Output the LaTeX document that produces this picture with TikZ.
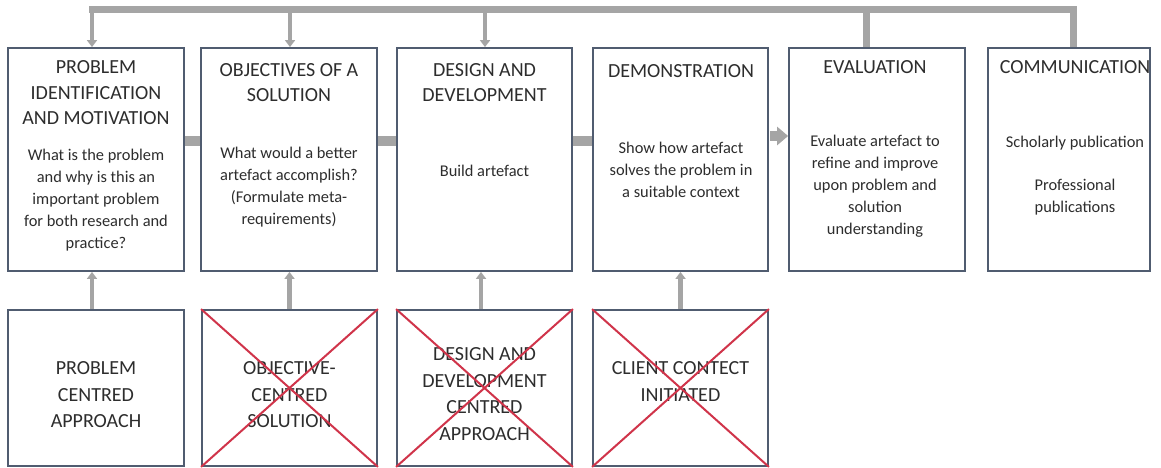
\documentclass[tikz,border=0pt]{standalone}
\usepackage{fontspec}
\setmainfont{Carlito}
\usetikzlibrary{arrows.meta,fit}
\definecolor{edge}{RGB}{80,92,112}
\definecolor{linkgray}{RGB}{165,165,165}
\definecolor{crossred}{RGB}{208,52,74}
\definecolor{ink}{RGB}{45,45,45}

\begin{document}
\begin{tikzpicture}[x=1pt,y=-1pt,
  stage/.style={draw=edge, line width=1.8pt, fill=white, inner sep=0pt},
  heading/.style={text=ink, align=center, inner sep=0pt, font=\fontsize{20}{25.5}\selectfont},
  detail/.style={text=ink, align=center, inner sep=0pt, font=\fontsize{16.4}{22}\selectfont},
  approach/.style={text=ink, align=center, inner sep=0pt, font=\fontsize{20}{26.5}\selectfont},
  bus/.style={draw=linkgray, line width=7pt, line join=miter},
  feed/.style={draw=linkgray, line width=4.5pt, -{Triangle[length=7pt,width=10pt]}},
  joint/.style={draw=linkgray, line width=10pt},
  flow/.style={draw=linkgray, line width=10pt, -{Triangle[length=11pt,width=18pt]}},
  strikeout/.style={draw=crossred, line width=2pt}
]
\fill[white] (0,0) rectangle (1161,468);
\useasboundingbox (0,0) rectangle (1161,468);

% process stages
\node[stage, fit={(8,48) (184,271)}] (b1) {};
\node[stage, fit={(201,48) (377,271)}] (b2) {};
\node[stage, fit={(397,48) (572,271)}] (b3) {};
\node[stage, fit={(593,48) (768,271)}] (b4) {};
\node[stage, fit={(789,48) (965,271)}] (b5) {};
\node[stage, fit={(988,48) (1150,271)}] (b6) {};

% entry points
\node[stage, fit={(8,310) (184,466)}] (c1) {};
\node[stage, fit={(202,310) (377,466)}] (c2) {};
\node[stage, fit={(397,310) (572,466)}] (c3) {};
\node[stage, fit={(593,310) (768,466)}] (c4) {};

% stage texts
\node[heading] (t1) at (96,92.7) {PROBLEM\\IDENTIFICATION\\AND MOTIVATION};
\node[detail] (d1) at (96,200) {What is the problem\\and why is this an\\important problem\\for both research and\\practice?};

\node[heading] (t2) at (289,82.5) {OBJECTIVES OF A\\SOLUTION};
\node[detail] (d2) at (289,187.5) {What would a better\\artefact accomplish?\\(Formulate meta-\\requirements)};

\node[heading] (t3) at (484.5,82.5) {DESIGN AND\\DEVELOPMENT};
\node[detail] (d3) at (484.5,171) {Build artefact};

\node[heading] (t4) at (681,71) {DEMONSTRATION};
\node[detail] (d4) at (681,170) {Show how artefact\\solves the problem in\\a suitable context};

\node[heading] (t5) at (875,67) {EVALUATION};
\node[detail] (d5) at (875,186) {Evaluate artefact to\\refine and improve\\upon problem and\\solution\\understanding};

\node[heading] (t6) at (1075,67) {COMMUNICATION};
\node[detail] (d6) at (1075,143) {Scholarly publication};
\node[detail] (d7) at (1075,197.5) {Professional\\publications};

% entry point texts
\node[approach] (s1) at (96,394.7) {PROBLEM\\CENTRED\\APPROACH};
\node[approach] (s2) at (289.5,394.7) {OBJECTIVE-\\CENTRED\\SOLUTION};
\node[approach] (s3) at (484.5,394.3) {DESIGN AND\\DEVELOPMENT\\CENTRED\\APPROACH};
\node[approach] (s4) at (680.5,381.5) {CLIENT CONTECT\\INITIATED};

% crossed-out entry points
\foreach \c in {c2,c3,c4}{
  \draw[strikeout] (\c.north west) -- (\c.south east);
  \draw[strikeout] (\c.north east) -- (\c.south west);
}

% iteration bus along the top
\coordinate (j1) at (92,10);
\coordinate (j2) at (290,10);
\coordinate (j3) at (485,10);
\coordinate (j5) at (866,10);
\coordinate (j6) at (1073,10);
\draw[bus] ([xshift=-3pt]j1) -- (j6) -- (j6 |- b6.north);
\draw[bus] (j5) -- (j5 |- b5.north);
\draw[feed] (j1) -- (j1 |- b1.north);
\draw[feed] (j2) -- (j2 |- b2.north);
\draw[feed] (j3) -- (j3 |- b3.north);

% sequence between stages
\coordinate (row) at (0,141);
\coordinate (rowa) at (0,136);
\draw[joint] (b1.east |- row) -- (b2.west |- row);
\draw[joint] (b2.east |- row) -- (b3.west |- row);
\draw[joint] (b3.east |- row) -- (b4.west |- row);
\draw[flow] ([xshift=1.5pt]b4.east |- rowa) -- (b5.west |- rowa);

% entry points feeding the stages
\draw[feed] ([xshift=-4pt]c1.north) -- ([xshift=-4pt]c1.north |- b1.south);
\draw[feed] (c2.north) -- (c2.north |- b2.south);
\draw[feed] ([xshift=-3.5pt]c3.north) -- ([xshift=-3.5pt]c3.north |- b3.south);
\draw[feed] (c4.north) -- (c4.north |- b4.south);
\end{tikzpicture}
\end{document}
